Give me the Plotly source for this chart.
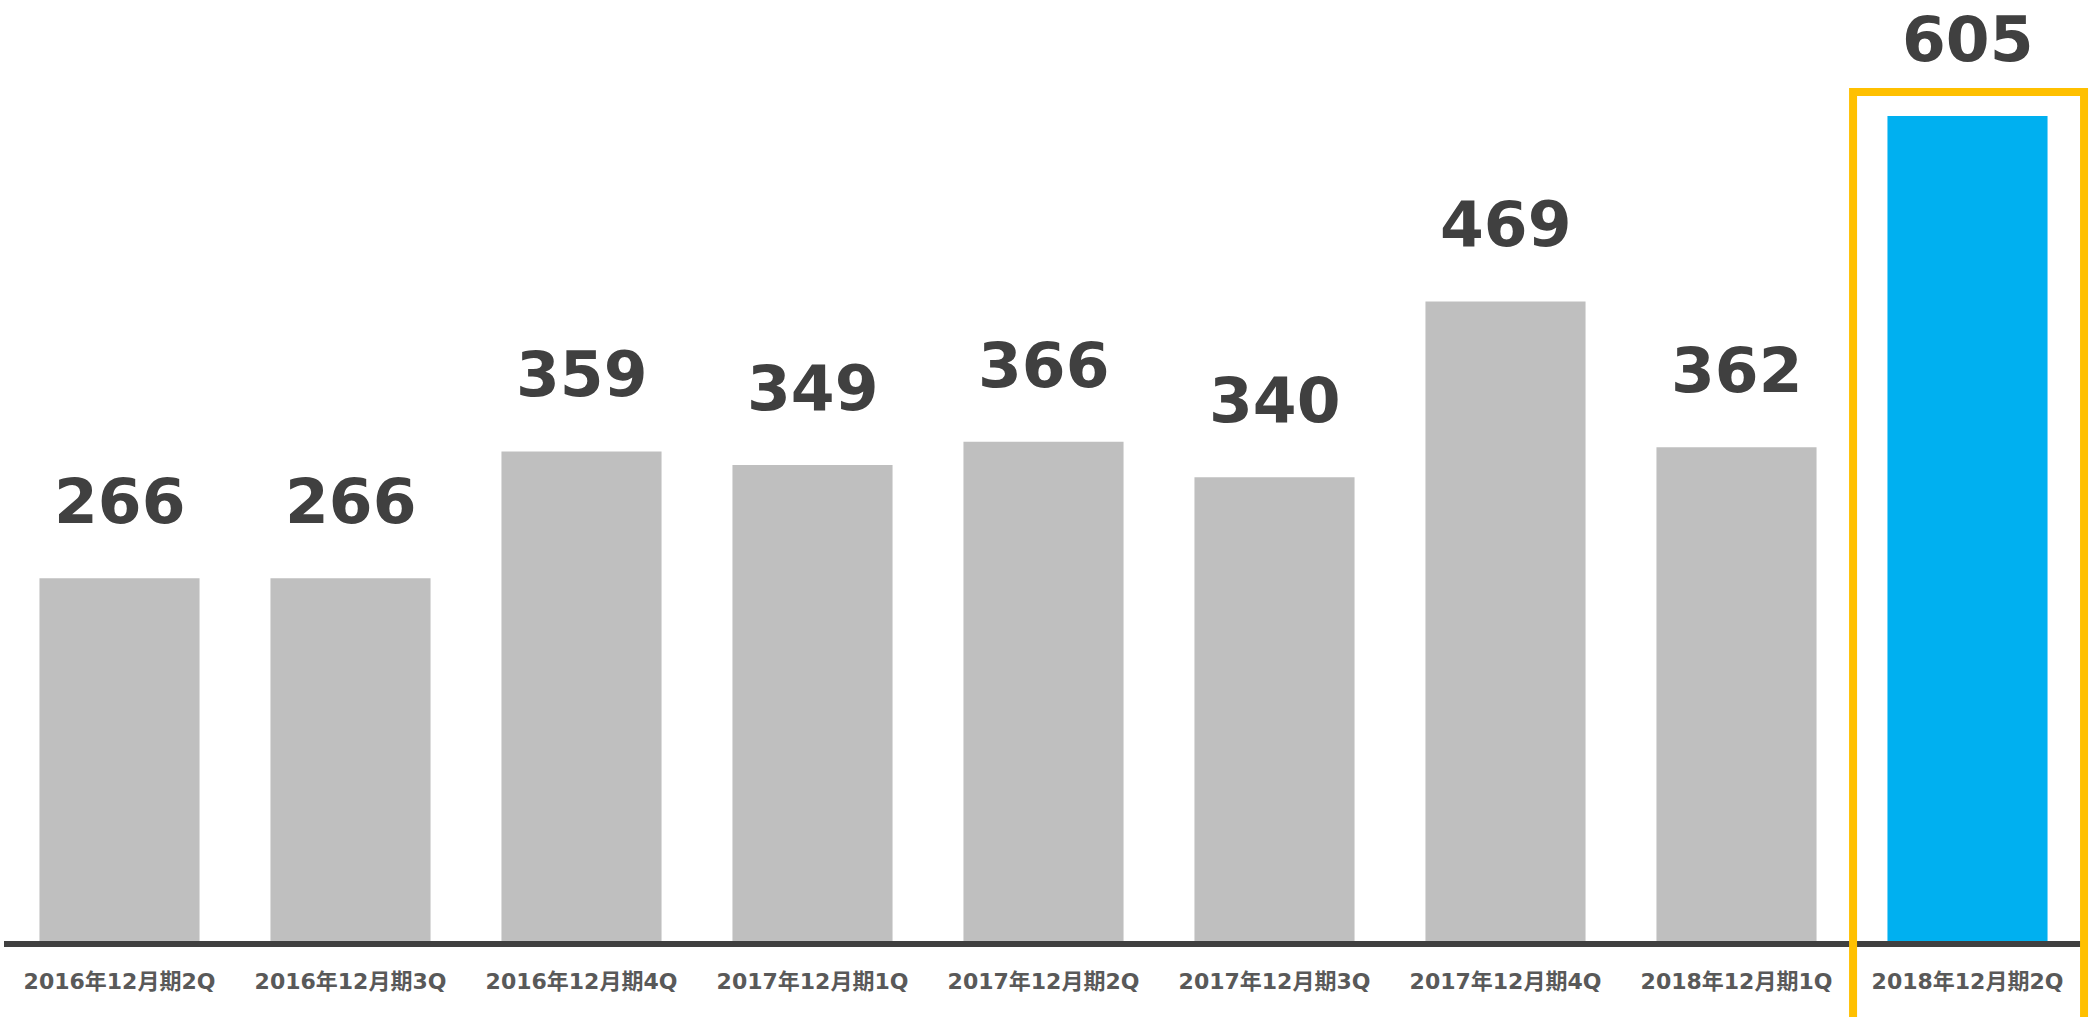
import plotly.graph_objects as go

categories = ["2016年12月期2Q", "2016年12月期3Q", "2016年12月期4Q", "2017年12月期1Q",
              "2017年12月期2Q", "2017年12月期3Q", "2017年12月期4Q", "2018年12月期1Q",
              "2018年12月期2Q"]
values = [266, 266, 359, 349, 366, 340, 469, 362, 605]
colors = ["#BFBFBF"] * 8 + ["#00B0F0"]

x_idx = list(range(len(categories)))

fig = go.Figure()
fig.add_trace(go.Bar(x=x_idx, y=values, marker=dict(color=colors, line=dict(width=0)),
                     hoverinfo="skip"))

for i, v in zip(x_idx, values):
    fig.add_annotation(x=i, y=v, text="<b>%d</b>" % v, showarrow=False, yanchor="bottom",
                       yshift=38, font=dict(family="DejaVu Sans", size=63, color="#404040"),
                       xref="x", yref="y")

# highlight box around last category
fig.add_shape(type="rect", xref="paper", yref="paper", x0=0.8894, x1=1.0005,
              y0=-0.12, y1=0.9022, line=dict(color="#FFC000", width=8),
              fillcolor="rgba(0,0,0,0)", layer="above")

fig.update_layout(
    width=2093, height=1017,
    margin=dict(l=4, r=10, t=0, b=76),
    plot_bgcolor="white", paper_bgcolor="white",
    bargap=0.307, showlegend=False,
    font=dict(family="DejaVu Sans, Noto Sans CJK JP", color="#595959"),
)
fig.update_xaxes(tickmode="array", tickvals=x_idx, ticktext=["<b>%s</b>" % c for c in categories],
                 tickfont=dict(family="DejaVu Sans, Noto Sans CJK JP", size=22, color="#595959"),
                 showline=True, linecolor="#404040", linewidth=6, ticks="",
                 ticklabelstandoff=16, range=[-0.5, 8.5], showgrid=False, zeroline=False)
fig.update_yaxes(range=[0, 690], visible=False, showgrid=False, zeroline=False)

fig.write_html("out.html")
